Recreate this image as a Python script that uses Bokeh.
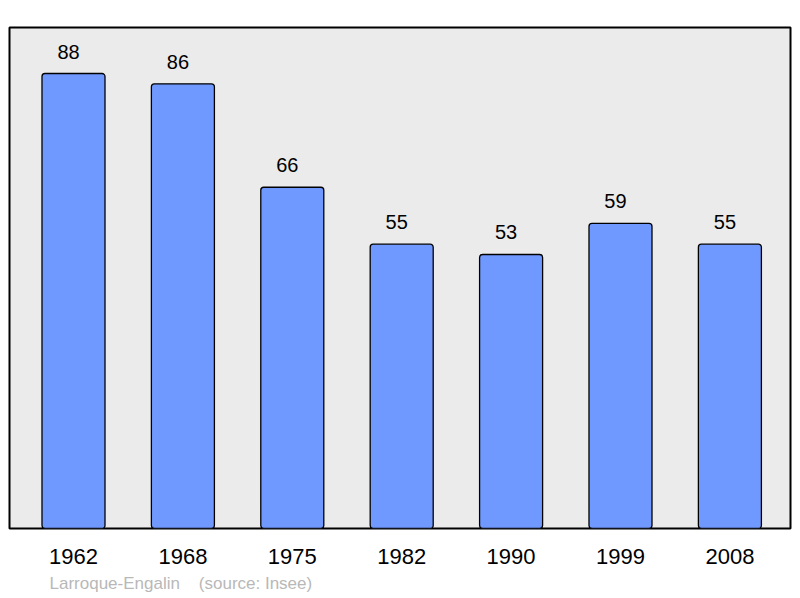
from bokeh.plotting import figure
from bokeh.models import ColumnDataSource, FixedTicker, Range1d, Title
from bokeh.core.properties import value
from bokeh.embed import file_html
from bokeh.resources import INLINE

years = ["1962", "1968", "1975", "1982", "1990", "1999", "2008"]
population = [88, 86, 66, 55, 53, 59, 55]
commune = "Larroque-Engalin"
source_note = "(source: Insee)"

idx = list(range(len(years)))
src = ColumnDataSource(dict(x=idx, top=population, lbl=[str(v) for v in population]))

p = figure(frame_width=781, frame_height=501, output_backend="svg", toolbar_location=None,
           x_range=Range1d(-0.585, 6.554), y_range=Range1d(0, 96.9),
           y_axis_location=None, min_border_left=9, min_border_right=2,
           min_border_top=27, min_border_bottom=10)
p.background_fill_color = "#ebebeb"
p.border_fill_color = "white"
p.outline_line_color = "black"
p.outline_line_width = 2
p.grid.visible = False

p.vbar(x="x", top="top", bottom=0, width=0.576, source=src,
       fill_color="#7099ff", line_color="black", line_width=1.3, border_radius=3)
p.text(x="x", y="top", text="lbl", source=src, text_align="center",
       text_baseline="bottom", x_offset=-5, y_offset=-15, text_font=value("Liberation Sans"),
       text_font_size="20px", text_color="black")

ax = p.xaxis[0]
ax.ticker = FixedTicker(ticks=idx)
ax.major_label_overrides = {i: y for i, y in zip(idx, years)}
ax.axis_line_color = None
ax.major_tick_line_color = None
ax.minor_tick_line_color = None
ax.major_tick_out = 0
ax.major_label_standoff = 20
ax.major_label_text_font = "Liberation Sans"
ax.major_label_text_font_size = "22px"
ax.major_label_text_color = "black"

t = Title(text=commune + "\u00a0\u00a0\u00a0\u00a0" + source_note, align="left", offset=40,
          text_font="Liberation Sans", text_font_size="17px",
          text_font_style="normal", text_color="#b8b8b8")
p.add_layout(t, "below")

open("out.html", "w").write(file_html(p, INLINE))
